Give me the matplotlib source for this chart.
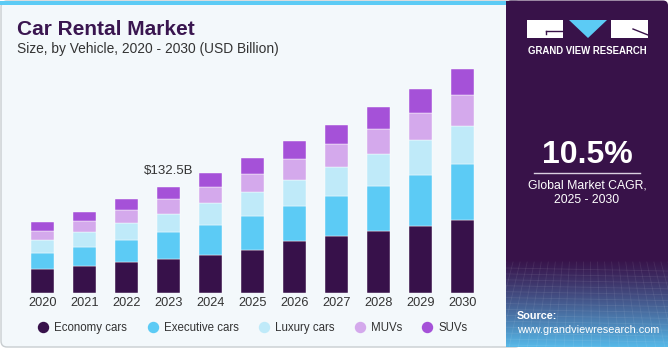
import numpy as np
import matplotlib
matplotlib.use("Agg")
import matplotlib.pyplot as plt
from matplotlib.patches import Rectangle, FancyBboxPatch, Polygon
from matplotlib.lines import Line2D

plt.rcParams['font.family'] = ['Liberation Sans', 'DejaVu Sans']

# data (USD Billion) ----------------------------------------------------------
years = ['2020', '2021', '2022', '2023', '2024', '2025',
         '2026', '2027', '2028', '2029', '2030']
economy = [29.8, 33.9, 38.5, 43.0, 47.6, 53.4, 65.0, 70.9, 77.4, 84.0, 90.7]
executive = [20.6, 24.0, 27.7, 33.2, 37.7, 42.6, 43.9, 50.5, 55.9, 63.0, 69.6]
luxury = [15.8, 18.3, 21.1, 22.7, 27.0, 29.5, 32.3, 35.7, 39.8, 43.1, 47.6]
muvs = [11.6, 13.3, 15.8, 18.3, 20.3, 23.1, 25.4, 28.2, 31.1, 34.3, 38.2]
suvs = [10.8, 11.9, 13.7, 15.3, 17.4, 19.9, 22.4, 24.0, 27.0, 29.8, 32.3]
segments = ['Economy cars', 'Executive cars', 'Luxury cars', 'MUVs', 'SUVs']
colors = ['#37114a', '#5ccbf5', '#bfeaf9', '#d4a9ec', '#a551d8']
label_year = '2023'
label_text = '$132.5B'

W, H = 671, 350
fig = plt.figure(figsize=(W / 100, H / 100), dpi=100, facecolor='white')

# background / panels, drawn in pixel coords
bg = fig.add_axes([0, 0, 1, 1], zorder=0)
bg.set_xlim(0, W)
bg.set_ylim(H, 0)
bg.axis('off')
bg.add_patch(FancyBboxPatch((1, 1), 520, 346, boxstyle='round,pad=0,rounding_size=6',
                            facecolor='#f3f8fb', edgecolor='#c8cdd0', linewidth=1))
bg.add_patch(Rectangle((0, 0.5), 506, 4.5, facecolor='#5ccbf5', edgecolor='none'))
bg.add_patch(FancyBboxPatch((506, 0.5), 162, 346.5, boxstyle='round,pad=0,rounding_size=5',
                            facecolor='#381249', edgecolor='none'))
bg.add_patch(Rectangle((506, 0.5), 10, 346.5, facecolor='#381249', edgecolor='none'))

# gradient at the bottom of the right panel
grad = np.linspace(0, 1, 100)[:, None]
c0 = np.array([0x38, 0x12, 0x49]) / 255
c1 = np.array([0x56, 0xb8, 0xe8]) / 255
img = c0 + (c1 - c0) * grad[:, :, None] ** 1.2
bg.imshow(img, extent=[506, 668, 347, 258], aspect='auto', zorder=1)
for yy in np.linspace(268, 345, 14):
    bg.plot([506, 668], [yy, yy + 3], color='white', alpha=0.08, lw=0.6, zorder=2)
for xx in np.linspace(506, 668, 24):
    bg.plot([xx, xx + (xx - 587) * 0.3], [262, 347], color='white', alpha=0.08, lw=0.6, zorder=2)

# logo
bg.add_patch(Rectangle((527, 20), 36, 18, facecolor='white', edgecolor='none', zorder=3))
bg.plot([546, 562], [31, 31], color='#381249', lw=1, zorder=4)
bg.plot([546, 546], [31, 34], color='#381249', lw=1, zorder=4)
bg.add_patch(Polygon([[569, 20], [607, 20], [588, 38]], closed=True,
                     facecolor='#5ccbf5', edgecolor='none', zorder=3))
bg.add_patch(Rectangle((611, 20), 37, 18, facecolor='white', edgecolor='none', zorder=3))
bg.plot([633, 648], [29, 35], color='#381249', lw=1, zorder=4)
bg.text(587.5, 51, 'GRAND VIEW RESEARCH', color='white', fontsize=6.9, fontweight='bold',
        ha='center', va='center', zorder=4)

bg.text(587, 155, '10.5%', color='white', fontsize=23, fontweight='bold',
        ha='center', va='center', zorder=4)
bg.plot([534, 640], [173, 173], color='#d9cfe0', lw=1, zorder=4)
bg.text(587, 185, 'Global Market CAGR,', color='white', fontsize=8.8,
        ha='center', va='center', zorder=4)
bg.text(587, 200, '2025 - 2030', color='white', fontsize=8.8,
        ha='center', va='center', zorder=4)
bg.text(517, 316, 'Source:', color='white', fontsize=7.8, fontweight='bold',
        ha='left', va='center', zorder=4)
bg.text(517, 330, 'www.grandviewresearch.com', color='white', fontsize=7.8,
        ha='left', va='center', zorder=4)

# titles
bg.text(17, 35, 'Car Rental Market', color='#3a1650', fontsize=15, fontweight='bold',
        ha='left', va='baseline')
bg.text(17, 53, 'Size, by Vehicle, 2020 - 2030 (USD Billion)', color='#333333',
        fontsize=9.9, ha='left', va='baseline')

# bar chart -------------------------------------------------------------------
ax = fig.add_axes([21.5 / W, (H - 293.3) / H, 462 / W, 233.3 / H], zorder=1)
ax.patch.set_alpha(0)
x = np.arange(len(years))
bottom = np.zeros(len(years))
for vals, col, name in zip([economy, executive, luxury, muvs, suvs], colors, segments):
    ax.bar(x, vals, 0.55, bottom=bottom, color=col, edgecolor='white', linewidth=0.3, label=name)
    bottom += np.array(vals)

i = years.index(label_year)
ax.annotate(label_text, (x[i], bottom[i]), xytext=(0, 7), textcoords='offset points',
            ha='center', va='bottom', fontsize=9.5, color='#333333')

ax.set_xlim(-0.5, len(years) - 0.5)
ax.set_ylim(0, 290)
ax.set_xticks(x)
ax.set_xticklabels(years, fontsize=9.2, color='#333333')
ax.tick_params(axis='x', length=0, pad=3)
ax.set_yticks([])
for s in ax.spines.values():
    s.set_visible(False)

handles = [Line2D([], [], marker='o', linestyle='', markersize=7.2, color=c) for c in colors]
fig.legend(handles, segments, loc='center', bbox_to_anchor=(253 / W, 1 - 328 / H), ncol=5,
           frameon=False, fontsize=8.3, handlelength=0.8, handletextpad=0.55,
           columnspacing=1.8, labelcolor='#333333')

fig.savefig('out.png', dpi=100, facecolor='white')
